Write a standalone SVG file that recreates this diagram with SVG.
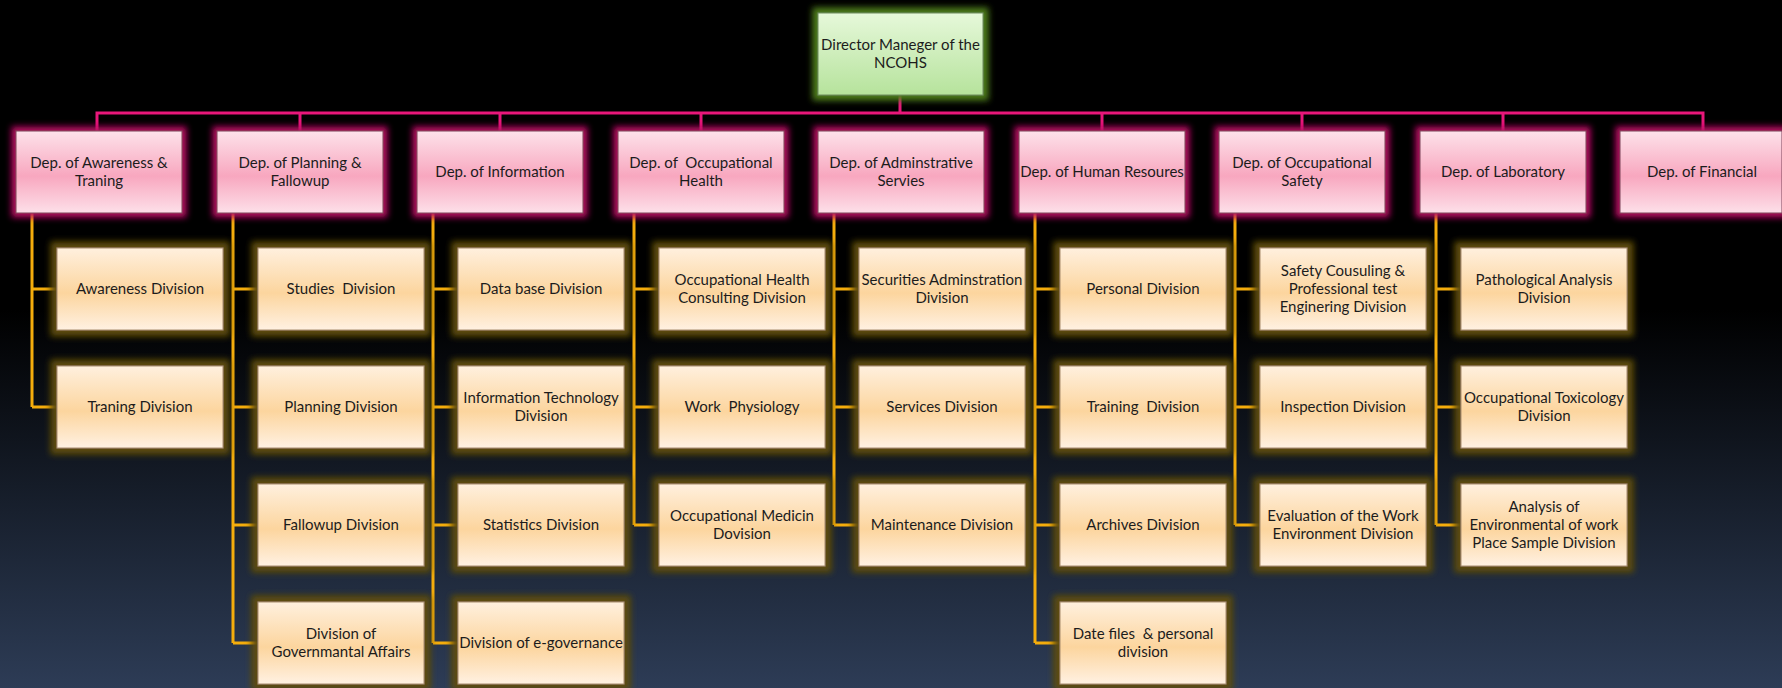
<svg xmlns="http://www.w3.org/2000/svg" width="1782" height="688" viewBox="0 0 1782 688">
<defs>
<linearGradient id="bg" x1="0" y1="0" x2="0" y2="1">
<stop offset="0" stop-color="#000000"/><stop offset="0.45" stop-color="#000000"/><stop offset="1" stop-color="#2d3c56"/>
</linearGradient>
<linearGradient id="gPink" x1="0" y1="0" x2="0" y2="1">
<stop offset="0" stop-color="#fde2ea"/><stop offset="0.55" stop-color="#f8a7bf"/><stop offset="1" stop-color="#fde0e9"/>
</linearGradient>
<linearGradient id="gGreen" x1="0" y1="0" x2="0" y2="1">
<stop offset="0" stop-color="#e6f8da"/><stop offset="1" stop-color="#b6e39c"/>
</linearGradient>
<linearGradient id="gDiv" x1="0" y1="0" x2="0" y2="1">
<stop offset="0" stop-color="#fff0de"/><stop offset="0.55" stop-color="#fcd59e"/><stop offset="1" stop-color="#fff1e2"/>
</linearGradient>
<filter id="fPink" x="-20%" y="-30%" width="140%" height="160%">
<feMorphology in="SourceAlpha" operator="dilate" radius="4" result="d"/>
<feGaussianBlur in="d" stdDeviation="3" result="b"/>
<feFlood flood-color="#b80c62" result="c"/>
<feComposite in="c" in2="b" operator="in" result="g"/>
<feMerge><feMergeNode in="g"/><feMergeNode in="SourceGraphic"/></feMerge>
</filter>
<filter id="fGold" x="-20%" y="-30%" width="140%" height="160%">
<feMorphology in="SourceAlpha" operator="dilate" radius="6" result="d"/>
<feGaussianBlur in="d" stdDeviation="3" result="b"/>
<feFlood flood-color="#5e4c0a" result="c"/>
<feComposite in="c" in2="b" operator="in" result="g"/>
<feMerge><feMergeNode in="g"/><feMergeNode in="SourceGraphic"/></feMerge>
</filter>
<filter id="fGreen" x="-20%" y="-30%" width="140%" height="160%">
<feMorphology in="SourceAlpha" operator="dilate" radius="5" result="d"/>
<feGaussianBlur in="d" stdDeviation="3" result="b"/>
<feFlood flood-color="#4e7e1c" result="c"/>
<feComposite in="c" in2="b" operator="in" result="g"/>
<feMerge><feMergeNode in="g"/><feMergeNode in="SourceGraphic"/></feMerge>
</filter>
</defs>
<style>
text{font-family:Lato,"Liberation Sans",sans-serif;font-size:15px;fill:#1c1c1c;text-anchor:middle}
.top{fill:url(#gGreen);stroke:#6f8c5c;stroke-width:1;filter:url(#fGreen)}
.dep{fill:url(#gPink);stroke:#7c4258;stroke-width:1;filter:url(#fPink)}
.div{fill:url(#gDiv);stroke:#a88c6c;stroke-width:1;filter:url(#fGold)}
.pk{fill:none;stroke:#e8177a;stroke-width:3}
.or{fill:none;stroke:#f5ad0c;stroke-width:3}
</style>
<rect x="0" y="0" width="1782" height="688" fill="url(#bg)"/>

<g id="connectors">
<path class="pk" d="M900 95V113M97 131V113H1703V131M300 113V131M500 113V131M701 113V131M1102 113V131M1302 113V131M1503 113V131"/>
<path class="or" d="M32 213V407M32 289H57M32 407H57"/>
<path class="or" d="M233 213V643M233 289H258M233 407H258M233 525H258M233 643H258"/>
<path class="or" d="M433 213V643M433 289H458M433 407H458M433 525H458M433 643H458"/>
<path class="or" d="M634 213V525M634 289H659M634 407H659M634 525H659"/>
<path class="or" d="M834 213V525M834 289H859M834 407H859M834 525H859"/>
<path class="or" d="M1035 213V643M1035 289H1060M1035 407H1060M1035 525H1060M1035 643H1060"/>
<path class="or" d="M1235 213V525M1235 289H1260M1235 407H1260M1235 525H1260"/>
<path class="or" d="M1436 213V525M1436 289H1461M1436 407H1461M1436 525H1461"/>
</g>

<g id="director"><rect class="top" x="818" y="13" width="165" height="82"/><text x="900.5" y="50">Director Maneger of the</text><text x="900.5" y="68">NCOHS</text></g>

<g id="dep1"><rect class="dep" x="16" y="131" width="166" height="82"/><text x="99" y="168">Dep. of Awareness &amp;</text><text x="99" y="186">Traning</text></g>
<g id="dep2"><rect class="dep" x="217" y="131" width="166" height="82"/><text x="300" y="168">Dep. of Planning &amp;</text><text x="300" y="186">Fallowup</text></g>
<g id="dep3"><rect class="dep" x="417" y="131" width="166" height="82"/><text x="500" y="177">Dep. of Information</text></g>
<g id="dep4"><rect class="dep" x="618" y="131" width="166" height="82"/><text x="701" y="168" xml:space="preserve">Dep. of  Occupational</text><text x="701" y="186">Health</text></g>
<g id="dep5"><rect class="dep" x="818" y="131" width="166" height="82"/><text x="901" y="168">Dep. of Adminstrative</text><text x="901" y="186">Servies</text></g>
<g id="dep6"><rect class="dep" x="1019" y="131" width="166" height="82"/><text x="1102" y="177">Dep. of Human Resoures</text></g>
<g id="dep7"><rect class="dep" x="1219" y="131" width="166" height="82"/><text x="1302" y="168">Dep. of Occupational</text><text x="1302" y="186">Safety</text></g>
<g id="dep8"><rect class="dep" x="1420" y="131" width="166" height="82"/><text x="1503" y="177">Dep. of Laboratory</text></g>
<g id="dep9"><rect class="dep" x="1620" y="131" width="162" height="82"/><text x="1702" y="177">Dep. of Financial</text></g>

<g id="div1-1"><rect class="div" x="57" y="248" width="166" height="82"/><text x="140" y="294">Awareness Division</text></g>
<g id="div1-2"><rect class="div" x="57" y="366" width="166" height="82"/><text x="140" y="412">Traning Division</text></g>

<g id="div2-1"><rect class="div" x="258" y="248" width="166" height="82"/><text x="341" y="294" xml:space="preserve">Studies  Division</text></g>
<g id="div2-2"><rect class="div" x="258" y="366" width="166" height="82"/><text x="341" y="412">Planning Division</text></g>
<g id="div2-3"><rect class="div" x="258" y="484" width="166" height="82"/><text x="341" y="530">Fallowup Division</text></g>
<g id="div2-4"><rect class="div" x="258" y="602" width="166" height="82"/><text x="341" y="639">Division of</text><text x="341" y="657">Governmantal Affairs</text></g>

<g id="div3-1"><rect class="div" x="458" y="248" width="166" height="82"/><text x="541" y="294">Data base Division</text></g>
<g id="div3-2"><rect class="div" x="458" y="366" width="166" height="82"/><text x="541" y="403">Information Technology</text><text x="541" y="421">Division</text></g>
<g id="div3-3"><rect class="div" x="458" y="484" width="166" height="82"/><text x="541" y="530">Statistics Division</text></g>
<g id="div3-4"><rect class="div" x="458" y="602" width="166" height="82"/><text x="541" y="648">Division of e-governance</text></g>

<g id="div4-1"><rect class="div" x="659" y="248" width="166" height="82"/><text x="742" y="285">Occupational Health</text><text x="742" y="303">Consulting Division</text></g>
<g id="div4-2"><rect class="div" x="659" y="366" width="166" height="82"/><text x="742" y="412" xml:space="preserve">Work  Physiology</text></g>
<g id="div4-3"><rect class="div" x="659" y="484" width="166" height="82"/><text x="742" y="521">Occupational Medicin</text><text x="742" y="539">Dovision</text></g>

<g id="div5-1"><rect class="div" x="859" y="248" width="166" height="82"/><text x="942" y="285">Securities Adminstration</text><text x="942" y="303">Division</text></g>
<g id="div5-2"><rect class="div" x="859" y="366" width="166" height="82"/><text x="942" y="412">Services Division</text></g>
<g id="div5-3"><rect class="div" x="859" y="484" width="166" height="82"/><text x="942" y="530">Maintenance Division</text></g>

<g id="div6-1"><rect class="div" x="1060" y="248" width="166" height="82"/><text x="1143" y="294">Personal Division</text></g>
<g id="div6-2"><rect class="div" x="1060" y="366" width="166" height="82"/><text x="1143" y="412" xml:space="preserve">Training  Division</text></g>
<g id="div6-3"><rect class="div" x="1060" y="484" width="166" height="82"/><text x="1143" y="530">Archives Division</text></g>
<g id="div6-4"><rect class="div" x="1060" y="602" width="166" height="82"/><text x="1143" y="639" xml:space="preserve">Date files  &amp; personal</text><text x="1143" y="657">division</text></g>

<g id="div7-1"><rect class="div" x="1260" y="248" width="166" height="82"/><text x="1343" y="276">Safety Cousuling &amp;</text><text x="1343" y="294">Professional test</text><text x="1343" y="312">Enginering Division</text></g>
<g id="div7-2"><rect class="div" x="1260" y="366" width="166" height="82"/><text x="1343" y="412">Inspection Division</text></g>
<g id="div7-3"><rect class="div" x="1260" y="484" width="166" height="82"/><text x="1343" y="521">Evaluation of the Work</text><text x="1343" y="539">Environment Division</text></g>

<g id="div8-1"><rect class="div" x="1461" y="248" width="166" height="82"/><text x="1544" y="285">Pathological Analysis</text><text x="1544" y="303">Division</text></g>
<g id="div8-2"><rect class="div" x="1461" y="366" width="166" height="82"/><text x="1544" y="403">Occupational Toxicology</text><text x="1544" y="421">Division</text></g>
<g id="div8-3"><rect class="div" x="1461" y="484" width="166" height="82"/><text x="1544" y="512">Analysis of</text><text x="1544" y="530">Environmental of work</text><text x="1544" y="548">Place Sample Division</text></g>
</svg>
